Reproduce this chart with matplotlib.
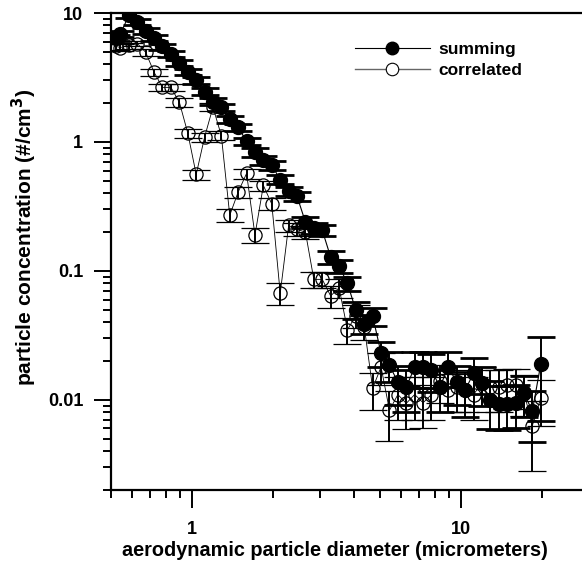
import matplotlib
matplotlib.use("Agg")
import matplotlib.pyplot as plt
from matplotlib.lines import Line2D
from matplotlib.ticker import FixedLocator, NullFormatter, LogLocator

plt.rcParams['font.family'] = ['Liberation Sans', 'DejaVu Sans']
plt.rcParams['font.weight'] = 'bold'
plt.rcParams['mathtext.default'] = 'bf'

# aerodynamic diameter channels (micrometers)
diameter = [0.523, 0.542, 0.583, 0.626, 0.673, 0.723, 0.777, 0.835, 0.898, 0.965,
            1.037, 1.114, 1.197, 1.286, 1.382, 1.486, 1.596, 1.715, 1.843, 1.981,
            2.129, 2.288, 2.458, 2.642, 2.839, 3.051, 3.278, 3.523, 3.786, 4.068,
            4.371, 4.698, 5.048, 5.425, 5.829, 6.264, 6.732, 7.234, 7.774, 8.354,
            8.977, 9.647, 10.37, 11.14, 11.97, 12.86, 13.82, 14.86, 15.96, 17.15,
            18.43, 19.81]

summing = [6.4, 6.9, 9.6, 8.5, 7.3, 6.4, 5.5, 4.8, 4.1, 3.5,
           3.0, 2.45, 2.05, 1.86, 1.5, 1.3, 1.01, 0.83, 0.72, 0.66,
           0.51, 0.415, 0.38, 0.239, 0.214, 0.207, 0.128, 0.109, 0.080, 0.0495,
           0.039, 0.0446, 0.023, 0.0186, 0.0137, 0.0126, 0.0179, 0.0179, 0.017, 0.0126,
           0.018, 0.0137, 0.0119, 0.0161, 0.0135, 0.00995, 0.0093, 0.0093, 0.0095, 0.0113,
           0.0082, 0.0189]
summing_err = [0.35, 0.4, 0.5, 0.45, 0.4, 0.35, 0.3, 0.27, 0.23, 0.2,
               0.18, 0.15, 0.13, 0.12, 0.1, 0.09, 0.07, 0.06, 0.055, 0.05,
               0.04, 0.035, 0.032, 0.022, 0.02, 0.02, 0.014, 0.012, 0.01, 0.0075,
               0.0065, 0.007, 0.005, 0.0048, 0.0045, 0.0045, 0.0055, 0.0055, 0.0055, 0.0045,
               0.0055, 0.0045, 0.0045, 0.005, 0.0045, 0.004, 0.0035, 0.0035, 0.0035, 0.004,
               0.0035, 0.012]

correlated = [5.5, 5.4, 5.6, 5.8, 4.96, 3.47, 2.65, 2.65, 2.03, 1.17,
              0.56, 1.09, 1.86, 1.12, 0.27, 0.41, 0.57, 0.19, 0.46, 0.33,
              0.067, 0.225, 0.21, 0.20, 0.086, 0.086, 0.064, 0.074, 0.035, 0.045,
              0.037, 0.0123, 0.018, 0.0083, 0.011, 0.0094, 0.011, 0.0095, 0.011, 0.014,
              0.012, 0.0126, 0.012, 0.011, 0.0135, 0.0125, 0.0126, 0.013, 0.013, 0.0115,
              0.0063, 0.0103]
correlated_err = [0.3, 0.3, 0.3, 0.3, 0.28, 0.22, 0.18, 0.18, 0.15, 0.1,
                  0.05, 0.09, 0.13, 0.09, 0.03, 0.04, 0.05, 0.025, 0.04, 0.035,
                  0.013, 0.025, 0.024, 0.023, 0.012, 0.012, 0.012, 0.012, 0.008, 0.009,
                  0.008, 0.004, 0.005, 0.0035, 0.004, 0.0035, 0.004, 0.0035, 0.004, 0.0045,
                  0.004, 0.0045, 0.004, 0.004, 0.0045, 0.0045, 0.0045, 0.0045, 0.0045, 0.004,
                  0.0035, 0.004]

x_major = [1, 10]
x_major_labels = ["1", "10"]
y_major = [0.01, 0.1, 1, 10]
y_major_labels = ["0.01", "0.1", "1", "10"]

W, H = 582, 566
fig = plt.figure(figsize=(W / 100, H / 100), dpi=100)
ax = fig.add_axes([111 / W, 1 - 490 / H, 1 - 111 / W, (490 - 13) / H])

ax.errorbar(diameter, correlated, yerr=correlated_err, fmt='o', ms=9.5,
            mfc='none', mec='black', mew=0.9, color='black', ecolor='black',
            elinewidth=1.4, capsize=10, capthick=2.0, zorder=2)
ax.plot(diameter, correlated, '-', color='black', lw=0.6, zorder=2)
ax.errorbar(diameter, summing, yerr=summing_err, fmt='o', ms=10,
            mfc='black', mec='black', color='black', ecolor='black',
            elinewidth=1.4, capsize=10, capthick=2.0, zorder=3)
ax.plot(diameter, summing, '-', color='black', lw=0.8, zorder=3)

ax.set_xscale('log')
ax.set_yscale('log')
ax.set_xlim(0.5, 28.2)
ax.set_ylim(0.002, 10)

ax.spines['right'].set_visible(False)
for s in ['left', 'bottom', 'top']:
    ax.spines[s].set_linewidth(1.6)

ax.xaxis.set_major_locator(FixedLocator(x_major))
ax.set_xticklabels(x_major_labels)
ax.yaxis.set_major_locator(FixedLocator(y_major))
ax.set_yticklabels(y_major_labels)
ax.xaxis.set_minor_locator(LogLocator(base=10, subs=range(2, 10), numticks=20))
ax.yaxis.set_minor_locator(LogLocator(base=10, subs=range(2, 10), numticks=20))
ax.xaxis.set_minor_formatter(NullFormatter())
ax.yaxis.set_minor_formatter(NullFormatter())

ax.tick_params(axis='x', which='major', direction='out', length=13, width=1.4,
               labelsize=13, pad=9, top=False)
ax.tick_params(axis='x', which='minor', direction='out', length=6, width=1.4, top=False)
ax.tick_params(axis='y', which='major', direction='out', length=12, width=1.4,
               labelsize=13, pad=8, right=False)
ax.tick_params(axis='y', which='minor', direction='out', length=5.5, width=1.4, right=False)
for lbl in ax.get_xticklabels() + ax.get_yticklabels():
    lbl.set_fontweight('bold')

ax.set_xlabel("aerodynamic particle diameter (micrometers)", fontsize=14.3,
              fontweight='bold')
ax.xaxis.set_label_coords(335 / W, 1 - 550 / H, transform=fig.transFigure)
ax.set_ylabel("particle concentration (#/cm$^{3}$)", fontsize=15,
              fontweight='bold')
ax.yaxis.set_label_coords(24 / W, 1 - 237 / H, transform=fig.transFigure)
ax.xaxis.label.set_verticalalignment('center')
ax.yaxis.label.set_verticalalignment('center')

handles = [
    Line2D([], [], color='black', lw=0.8, marker='o', ms=9, mfc='black', mec='black'),
    Line2D([], [], color='#666666', lw=1.0, marker='o', ms=9, mfc='white', mec='black', mew=0.8),
]
ax.legend(handles, ["summing", "correlated"], loc='upper left',
          bbox_to_anchor=(355 / W, 1 - 42 / H), bbox_transform=fig.transFigure,
          frameon=False, handlelength=4.3, handletextpad=0.5,
          labelspacing=0.35, borderpad=0, borderaxespad=0,
          prop={'weight': 'bold', 'size': 12.5})

fig.savefig("out.png", dpi=100)
